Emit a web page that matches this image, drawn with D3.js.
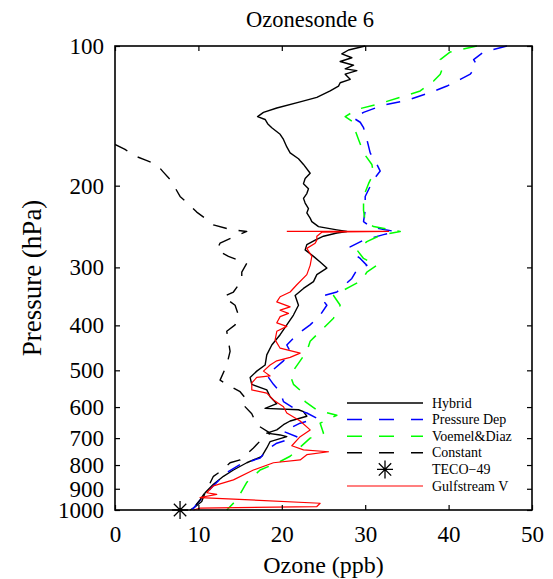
<!DOCTYPE html>
<html>
<head>
<meta charset="utf-8">
<script src="https://cdn.jsdelivr.net/npm/d3@7"></script>
<style>
  html, body { margin: 0; padding: 0; background: #fff; }
  svg { display: block; }
  text { font-family: "Liberation Serif", Tinos, "Times New Roman", Times, "DejaVu Serif", "Noto Serif", serif; fill: #000; }
</style>
</head>
<body>
<svg id="chart" width="553" height="579"></svg>
<script>
// ---------- data (pressure in hPa, ozone in ppb) ----------
const xTicks = [0, 10, 20, 30, 40, 50];
const yTicks = [100, 200, 300, 400, 500, 600, 700, 800, 900, 1000];

const hybridP = [100,102,104,106,108,110,112,113,115,118,120,122,125,129,132,136,139,142,144,147,150,155,159,165,170,175,180,188,193,198,203,208,213,218,224,229,235,239,245,249,251,253,257,262,268,275,284,292,301,311,322,333,345,362,380,399,419,441,463,487,502,518,536,551,570,590,604,608,614,628,643,655,672,683,689,695,712,735,766,791,820,846,880,918,959,991,1000];
const hybridO = [30.0,28.0,27.2,28.4,27.0,28.6,27.6,29.0,27.6,28.2,27.0,26.8,25.8,24.2,22.2,19.4,17.8,17.1,18.0,18.3,18.8,19.8,20.2,20.6,21.0,22.0,22.6,23.4,22.8,22.6,23.2,23.0,22.6,22.8,23.2,23.0,23.4,23.6,24.4,26.6,27.8,26.6,25.0,24.0,23.0,22.8,23.8,24.6,25.4,24.2,23.8,22.6,21.6,22.0,21.4,20.6,19.8,18.8,18.2,18.0,17.0,16.2,16.4,18.2,18.6,19.4,18.0,22.0,22.6,23.0,21.0,20.2,19.4,18.2,19.8,20.6,18.6,18.2,17.6,15.8,14.2,13.0,11.8,10.8,10.4,9.4,9.0];

const pressDepP = [100,103,107,110,115,118,122,126,131,134,139,143,146,150,159,170,180,186,194,211,226,239,245,249,251,255,262,271,280,287,297,304,317,339,347,362,380,399,419,441,455,477,512,536,556,584,609,618,634,650,677,695,718,742,773,798,830,887,934,991,1000];
const pressDepO = [47.0,44.2,43.0,43.4,42.6,41.4,39.8,37.8,35.0,32.2,29.8,28.6,29.4,29.8,30.2,30.6,31.4,31.8,31.0,30.0,30.0,29.8,30.6,32.4,33.6,32.2,29.8,28.2,28.6,29.4,30.2,29.0,28.4,26.6,24.6,25.4,24.6,23.4,21.8,20.6,21.0,20.2,18.2,19.0,19.8,20.2,21.8,23.0,24.2,22.2,20.2,21.8,19.4,18.2,17.4,15.0,13.4,11.8,10.6,9.4,9.0];

const voemelP = [100,103,107,110,115,119,125,129,133,137,142,146,152,159,170,180,188,198,211,226,239,245,251,256,264,275,287,297,307,320,330,345,362,386,412,433,455,477,512,536,556,570,584,609,625,650,683,700,766,786,820,872,951,1000];
const voemelO = [43.4,40.2,39.0,39.4,39.0,38.2,36.6,34.2,31.8,29.0,27.6,28.6,28.8,29.2,29.8,30.8,31.0,30.4,29.8,29.8,30.0,31.0,34.2,31.8,30.2,29.0,29.8,31.4,30.2,29.6,28.2,26.2,27.0,26.2,24.6,23.4,23.0,22.2,21.0,21.4,22.4,22.6,22.8,24.2,26.6,24.6,25.0,23.4,21.0,19.8,17.4,15.8,14.6,13.4];

const constantP = [163,167,172,176,180,187,194,202,211,219,228,235,243,249,251,258,266,275,284,294,307,320,339,347,362,380,399,412,433,455,487,525,541,556,579,594,620,655,683,710,735,780,791,827,846,905,951,991,1000];
const constantO = [0,1.2,2.2,3.6,5.0,5.8,6.6,7.2,7.8,8.8,9.8,10.8,11.8,14.0,15.8,14.2,12.6,12.2,13.6,15.8,15.2,15.2,14.2,13.0,14.4,14.8,14.4,13.4,13.6,13.8,13.4,12.6,13.8,15.0,15.8,15.4,16.4,17.0,18.6,17.4,16.6,15.0,13.8,12.6,11.8,11.0,10.2,9.4,9.0];

const gulfP = [251,251,252,257,262,266,273,284,297,311,327,339,347,356,365,371,377,383,395,402,412,430,448,459,469,477,487,502,514,518,532,551,560,579,599,618,643,672,695,727,742,749,760,780,791,820,861,887,918,925,940,967,983,991,1000];
const gulfO = [20.6,32.8,24.8,24.2,24.2,24.0,23.0,23.6,23.4,23.0,21.8,21.0,19.8,19.4,21.0,19.8,20.8,19.8,19.4,20.6,19.4,19.2,19.8,22.2,21.0,19.4,18.6,17.8,18.6,17.0,16.4,16.4,18.2,19.0,20.2,20.6,22.2,23.4,22.2,21.2,22.6,25.6,23.0,22.2,19.0,16.6,14.2,11.8,11.0,12.2,10.2,24.6,24.2,10.2,9.4];

const tecoP = [1000];
const tecoO = [7.8];

const seriesNames = ["Hybrid", "Pressure Dep", "Voemel&Diaz", "Constant", "TECO\u221249", "Gulfstream V"];

// ---------- layout ----------
const SERIF = "'Liberation Serif', Tinos, 'Times New Roman', Times, 'DejaVu Serif', 'Noto Serif', serif";
const svg = d3.select("#chart");
const L = 115, R = 532, T = 46, B = 510;
const FONT = 23;

const x = d3.scaleLinear().domain([0, 50]).range([L, R]);
const y = d3.scaleLog().domain([100, 1000]).range([T, B]);

const zip = (P, O) => P.map((p, i) => [p, O[i]]);
const line = d3.line().x(d => x(d[1])).y(d => y(d[0]));

const series = [
  { name: seriesNames[0], data: zip(hybridP, hybridO), color: "#000000", dash: null, w: 1.4 },
  { name: seriesNames[1], data: zip(pressDepP, pressDepO), color: "#0000ff", dash: "14,12", w: 1.5 },
  { name: seriesNames[2], data: zip(voemelP, voemelO), color: "#00ff00", dash: "14,12", w: 1.5 },
  { name: seriesNames[3], data: zip(constantP, constantO), color: "#000000", dash: "14,12", w: 1.4 },
  { name: seriesNames[5], data: zip(gulfP, gulfO), color: "#ff0000", dash: null, w: 1.2 }
];

const plot = svg.append("g");
plot.append("clipPath").attr("id", "clip").append("rect")
  .attr("x", L).attr("y", T - 1).attr("width", R - L).attr("height", B - T + 2);

const curves = plot.append("g").attr("clip-path", "url(#clip)");
series.forEach(s => {
  curves.append("path")
    .datum(s.data)
    .attr("d", line)
    .attr("fill", "none")
    .attr("stroke", s.color)
    .attr("stroke-width", s.w)
    .attr("stroke-dasharray", s.dash)
    .attr("stroke-linejoin", "round");
});

function starPath(cx, cy) {
  const a = 9, b = 8, c = 6.2;
  return `M${cx},${cy - a}L${cx},${cy + a}M${cx - b},${cy}L${cx + b},${cy}` +
         `M${cx - c},${cy - c}L${cx + c},${cy + c}M${cx - c},${cy + c}L${cx + c},${cy - c}`;
}
svg.append("g").selectAll("path").data(zip(tecoP, tecoO)).join("path")
  .attr("d", d => starPath(x(d[1]), y(d[0])))
  .attr("stroke", "#000").attr("stroke-width", 1.3).attr("fill", "none");

// ---------- axes ----------
const tickStyle = g => {
  g.attr("font-family", SERIF).attr("font-size", FONT);
  g.select(".domain").remove();
  g.selectAll(".tick line").attr("stroke", "#000").attr("stroke-width", 1.2);
  g.selectAll("text").attr("fill", "#000");
};

svg.append("g").attr("transform", `translate(${L},0)`)
  .call(d3.axisLeft(y).tickValues(yTicks).tickFormat(d3.format("d")).tickSizeInner(-5).tickSizeOuter(0).tickPadding(11))
  .call(tickStyle);
svg.append("g").attr("transform", `translate(${R},0)`)
  .call(d3.axisRight(y).tickValues(yTicks).tickFormat("").tickSizeInner(-5).tickSizeOuter(0))
  .call(tickStyle);
svg.append("g").attr("transform", `translate(0,${B})`)
  .call(d3.axisBottom(x).tickValues(xTicks).tickFormat(d3.format("d")).tickSizeInner(-5).tickSizeOuter(0).tickPadding(16))
  .call(tickStyle);
svg.append("g").attr("transform", `translate(0,${T})`)
  .call(d3.axisTop(x).tickValues(xTicks).tickFormat("").tickSizeInner(-5).tickSizeOuter(0))
  .call(tickStyle);

svg.append("rect").attr("x", L).attr("y", T).attr("width", R - L).attr("height", B - T)
  .attr("fill", "none").attr("stroke", "#000").attr("stroke-width", 1.6);

// ---------- labels ----------
svg.append("text").attr("x", 310).attr("y", 27).attr("text-anchor", "middle")
  .attr("font-size", 22.5).text("Ozonesonde 6");
svg.append("text").attr("x", (L + R) / 2).attr("y", 573).attr("text-anchor", "middle")
  .attr("font-size", 24).text("Ozone (ppb)");
svg.append("text").attr("transform", `translate(41,${(T + B) / 2}) rotate(-90)`).attr("text-anchor", "middle")
  .attr("font-size", 27).text("Pressure (hPa)");

// ---------- legend ----------
const legX0 = 347, legX1 = 423, legTx = 432, legY0 = 403, legDy = 16.6;
const legendItems = [
  { name: seriesNames[0], color: "#000", dash: null, w: 1.4, marker: false },
  { name: seriesNames[1], color: "#0000ff", dash: "15,17", w: 1.5, marker: false },
  { name: seriesNames[2], color: "#00ff00", dash: "15,17", w: 1.5, marker: false },
  { name: seriesNames[3], color: "#000", dash: "15,17", w: 1.4, marker: false },
  { name: seriesNames[4], color: "#000", dash: null, w: 1.3, marker: true },
  { name: seriesNames[5], color: "#ff0000", dash: null, w: 1.2, marker: false }
];
const leg = svg.append("g");
legendItems.forEach((it, i) => {
  const yy = legY0 + i * legDy;
  if (it.marker) {
    leg.append("path").attr("d", starPath((legX0 + legX1) / 2, yy))
      .attr("stroke", "#000").attr("stroke-width", 1.3).attr("fill", "none");
  } else {
    leg.append("line").attr("x1", legX0).attr("x2", legX1).attr("y1", yy).attr("y2", yy)
      .attr("stroke", it.color).attr("stroke-width", it.w).attr("stroke-dasharray", it.dash);
  }
  leg.append("text").attr("x", legTx).attr("y", yy).attr("dy", "0.33em")
    .attr("font-size", 14).text(it.name);
});
</script>
</body>
</html>
